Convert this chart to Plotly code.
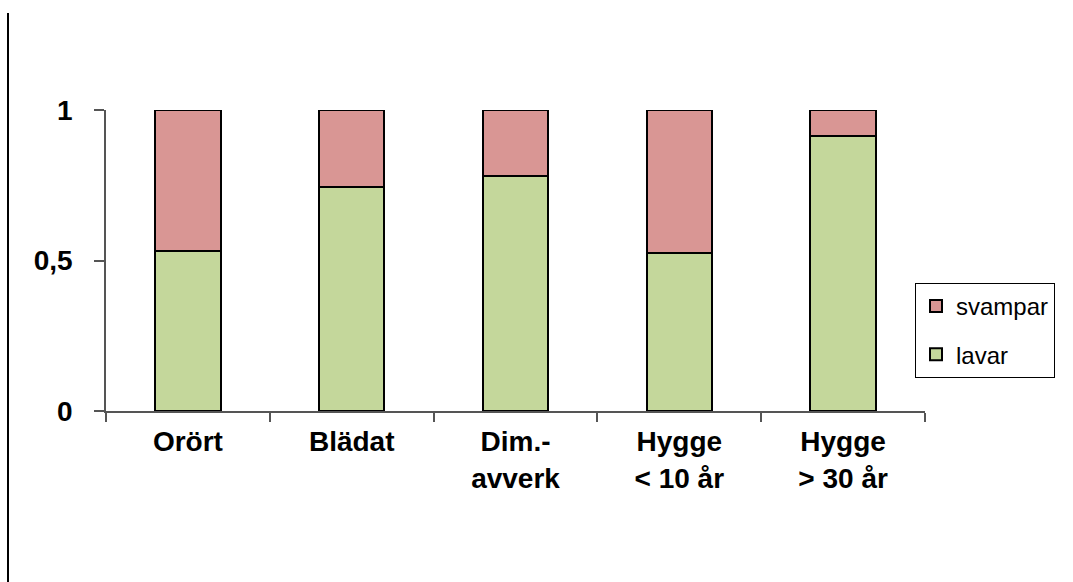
import plotly.graph_objects as go

# Share of species per stand type
categories = ["Orört", "Blädat", "Dim.-<br>avverk", "Hygge<br>< 10 år", "Hygge<br>> 30 år"]
lavar = [0.53, 0.745, 0.78, 0.525, 0.915]
svampar = [round(1 - v, 3) for v in lavar]

GREEN = "#C4D79B"
PINK = "#D99694"
FONT = "Liberation Sans, Arial, sans-serif"

fig = go.Figure()
fig.add_trace(go.Bar(
    x=categories, y=lavar, name="lavar", legendgroup="lavar", legendrank=2,
    marker=dict(color=GREEN, line=dict(color="black", width=2)),
    width=0.4,
))
fig.add_trace(go.Bar(
    x=categories, y=svampar, name="svampar", legendgroup="svampar", legendrank=1,
    marker=dict(color=PINK, line=dict(color="black", width=2)),
    width=0.4,
))

W, H = 1073, 582
left, right, top, bottom = 106, 925, 110, 411

fig.update_layout(
    width=W, height=H,
    barmode="stack",
    separators=", ",
    plot_bgcolor="white", paper_bgcolor="white",
    margin=dict(l=left, r=W - right, t=top, b=H - bottom, pad=0),
    font=dict(family=FONT, color="black"),
    showlegend=True,
    legend=dict(
        x=(915 - left) / (right - left), xanchor="left",
        y=(bottom - 283) / (bottom - top), yanchor="top",
        traceorder="grouped",
        tracegroupgap=14,
        bordercolor="black", borderwidth=1,
        bgcolor="white",
        font=dict(family=FONT, size=24, color="black"),
        itemwidth=30,
    ),
    xaxis=dict(
        showline=True, linecolor="#555555", linewidth=1.5,
        ticks="outside", tickson="boundaries", ticklen=9, tickcolor="#555555",
        tickwidth=1.5,
        ticklabelstandoff=5,
        tickfont=dict(family=FONT, size=28, color="black", weight="bold"),
        showgrid=False, zeroline=False,
        range=[-0.5, 4.5],
    ),
    yaxis=dict(
        range=[0, 1],
        tickvals=[0, 0.5, 1],
        showline=True, linecolor="#555555", linewidth=1.5,
        ticks="outside", ticklen=10, tickcolor="#555555", tickwidth=1.5,
        ticklabelstandoff=16,
        tickfont=dict(family=FONT, size=28, color="black", weight="bold"),
        showgrid=False, zeroline=False,
    ),
    shapes=[dict(
        type="line", xref="paper", yref="paper",
        x0=(8 - left) / (right - left), x1=(8 - left) / (right - left),
        y0=(bottom - 13) / (bottom - top), y1=(bottom - H) / (bottom - top),
        line=dict(color="black", width=2),
    )],
)

fig.write_html("out.html")
